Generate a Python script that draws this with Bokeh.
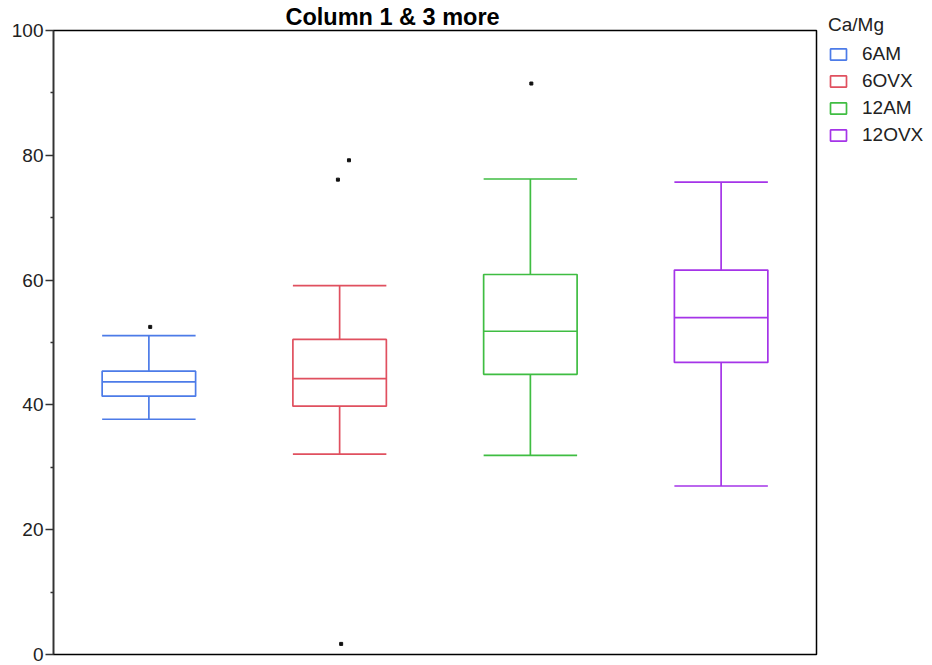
from bokeh.plotting import figure
from bokeh.models import (ColumnDataSource, FactorRange, Range1d, FixedTicker,
                          Legend, LegendItem)
from bokeh.embed import file_html
from bokeh.resources import INLINE

# ---- data ----
categories = ["6AM", "6OVX", "12AM", "12OVX"]
upper = [51.1, 59.1, 76.2, 75.7]
q3 = [45.4, 50.5, 60.9, 61.6]
median = [43.7, 44.2, 51.8, 54.0]
q1 = [41.4, 39.8, 44.9, 46.8]
lower = [37.7, 32.1, 31.9, 27.0]
colors = ["#4C7BE8", "#E0505F", "#3FBD42", "#A534E8"]

outlier_cat = ["6AM", "6OVX", "6OVX", "6OVX", "12AM"]
outlier_val = [52.5, 79.2, 76.1, 1.7, 91.5]
outlier_jitter = [0.007, 0.049, -0.009, 0.008, 0.005]

y_ticks = [0, 20, 40, 60, 80, 100]
y_minor = [10, 30, 50, 70, 90]

title_text = "Column 1 & 3 more"
legend_title = "Ca/Mg"

BOX_W = 0.49
FONT = "Liberation Sans"

p = figure(
    x_range=FactorRange(factors=categories, range_padding=0),
    y_range=Range1d(0, 100),
    frame_width=763, frame_height=624,
    min_border_left=53, min_border_right=116,
    min_border_top=29, min_border_bottom=12,
    output_backend="svg", toolbar_location=None,
)
p.background_fill_color = "white"
p.border_fill_color = "white"
p.outline_line_color = "black"
p.outline_line_width = 1.5
p.grid.visible = False
p.xaxis.visible = False

p.title.text = title_text
p.title.text_font = FONT
p.title.text_font_size = "23.5px"
p.title.text_font_style = "bold"
p.title.text_color = "black"
p.title.align = "left"
p.title.offset = 232
p.title.standoff = 2

yax = p.yaxis[0]
yax.ticker = FixedTicker(ticks=y_ticks, minor_ticks=y_minor)
yax.axis_line_color = "#333333"
yax.axis_line_width = 1.5
yax.major_tick_line_color = "#333333"
yax.major_tick_line_width = 1.5
yax.minor_tick_line_color = "#333333"
yax.minor_tick_line_width = 1.5
yax.major_tick_out = 8
yax.major_tick_in = 0
yax.minor_tick_out = 3
yax.minor_tick_in = 0
yax.major_label_standoff = 2
yax.major_label_text_font = FONT
yax.major_label_text_font_size = "19px"
yax.major_label_text_color = "#222222"

src = ColumnDataSource(dict(
    cat=categories, upper=upper, q3=q3, median=median, q1=q1, lower=lower,
    color=colors,
    left=[(c, -BOX_W / 2) for c in categories],
    right=[(c, BOX_W / 2) for c in categories],
))

LW = 1.7
box = p.vbar(x="cat", top="q3", bottom="q1", width=BOX_W, source=src,
             fill_alpha=0, line_color="color", line_width=LW)
p.segment(x0="left", x1="right", y0="median", y1="median", source=src,
          line_color="color", line_width=LW)
p.segment(x0="cat", x1="cat", y0="q3", y1="upper", source=src,
          line_color="color", line_width=LW)
p.segment(x0="cat", x1="cat", y0="q1", y1="lower", source=src,
          line_color="color", line_width=LW)
p.segment(x0="left", x1="right", y0="upper", y1="upper", source=src,
          line_color="color", line_width=LW)
p.segment(x0="left", x1="right", y0="lower", y1="lower", source=src,
          line_color="color", line_width=LW)

osrc = ColumnDataSource(dict(
    x=[(c, j) for c, j in zip(outlier_cat, outlier_jitter)],
    y=outlier_val,
))
p.scatter(x="x", y="y", source=osrc, marker="square", size=3,
          fill_color="#111111", line_color="#111111")

items = [LegendItem(label=c, renderers=[box], index=i)
         for i, c in enumerate(categories)]
legend = Legend(items=items, location=(12, 508), title=legend_title,
                title_text_font=FONT, title_text_font_size="19px",
                title_text_font_style="normal", title_text_color="#222222",
                title_standoff=7,
                label_text_font=FONT, label_text_font_size="19px",
                label_text_color="#222222",
                glyph_width=20, glyph_height=14, label_height=20,
                label_standoff=14, spacing=5, padding=2, margin=0,
                border_line_color=None, background_fill_alpha=0)
p.add_layout(legend, "right")

open("out.html", "w").write(file_html(p, INLINE))
